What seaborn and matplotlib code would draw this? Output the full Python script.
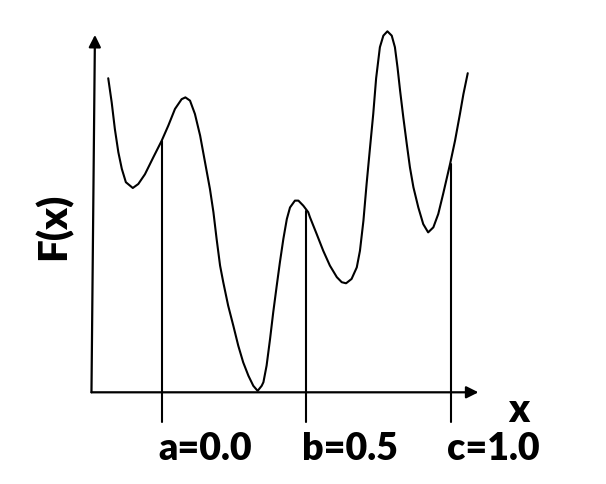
import matplotlib
matplotlib.use("Agg")
import matplotlib.pyplot as plt
import seaborn as sns
import pandas as pd

sns.set_theme(style="white")
plt.rcParams['font.family'] = ['Lato', 'DejaVu Sans']

# Curve F(x) (a=0, b=0.5, c=1 on the x scale; y scaled so peak = 1)
curve_x = [-0.185, -0.173, -0.162, -0.150, -0.138, -0.124, -0.100, -0.081, -0.058, -0.029,
           0.000, 0.023, 0.046, 0.069, 0.082, 0.098, 0.115, 0.133, 0.150, 0.167,
           0.179, 0.190, 0.202, 0.213, 0.230, 0.248, 0.265, 0.282, 0.300, 0.317,
           0.332, 0.346, 0.352, 0.363, 0.375, 0.386, 0.398, 0.409, 0.421, 0.433,
           0.444, 0.461, 0.473, 0.490, 0.507, 0.513, 0.536, 0.559, 0.582, 0.606,
           0.623, 0.638, 0.657, 0.675, 0.686, 0.698, 0.709, 0.721, 0.732, 0.742,
           0.755, 0.767, 0.781, 0.796, 0.807, 0.816, 0.825, 0.836, 0.848, 0.859,
           0.871, 0.888, 0.905, 0.922, 0.940, 0.957, 0.974, 0.998, 1.015, 1.032,
           1.044, 1.059]
curve_y = [0.870, 0.803, 0.729, 0.665, 0.619, 0.582, 0.566, 0.577, 0.604, 0.651,
           0.697, 0.739, 0.785, 0.812, 0.817, 0.808, 0.771, 0.711, 0.637, 0.563,
           0.499, 0.425, 0.351, 0.305, 0.240, 0.184, 0.129, 0.083, 0.046, 0.018,
           0.004, 0.018, 0.028, 0.074, 0.148, 0.222, 0.295, 0.360, 0.425, 0.480,
           0.512, 0.531, 0.531, 0.517, 0.499, 0.485, 0.439, 0.392, 0.351, 0.319,
           0.305, 0.302, 0.314, 0.346, 0.392, 0.475, 0.577, 0.679, 0.771, 0.870,
           0.956, 0.988, 1.000, 0.988, 0.956, 0.900, 0.835, 0.762, 0.688, 0.623,
           0.568, 0.512, 0.466, 0.443, 0.457, 0.494, 0.550, 0.633, 0.697, 0.771,
           0.826, 0.884]

marker_names = ["a", "b", "c"]
marker_x = [0.0, 0.5, 1.0]
marker_top = [0.697, 0.503, 0.633]
marker_bottom = -0.081

x_label = "x"
y_label = "F(x)"

fig = plt.figure(figsize=(6.06, 4.85), dpi=100)
ax = fig.add_axes([0, 0, 1, 1])
ax.set_xlim(-0.5595, 1.5374)
ax.set_ylim(-0.254, 1.0895)
ax.axis("off")

df = pd.DataFrame({"x": curve_x, "y": curve_y})
sns.lineplot(data=df, x="x", y="y", sort=False, color="black", lw=1.5, ax=ax)
ax.lines[-1].set_solid_joinstyle("round")

# vertical lines at a, b, c
for xv, top in zip(marker_x, marker_top):
    ax.plot([xv, xv], [marker_bottom, top], color="black", lw=1.5)

# axes arrows
arrow = dict(arrowstyle="-|>", color="black", lw=1.6, mutation_scale=18, shrinkA=0, shrinkB=0)
ax.annotate("", xy=(-0.231, 0.99), xytext=(-0.243, 0.0), arrowprops=arrow)
ax.annotate("", xy=(1.096, 0.0), xytext=(-0.243, 0.0), arrowprops=arrow)

# labels
for name, xv in zip(marker_names, marker_x):
    ax.text(xv - 0.013, -0.185, f"{name}={xv:.1f}", ha="left", va="baseline",
            fontsize=27, fontweight="heavy", color="black")
ax.text(1.198, -0.079, x_label, ha="left", va="baseline", fontsize=28,
        fontweight="heavy", color="black")
ax.text(-0.375, 0.463, y_label, ha="center", va="center", rotation=90,
        fontsize=29, fontweight="heavy", color="black")

fig.savefig("out.png", dpi=100)
